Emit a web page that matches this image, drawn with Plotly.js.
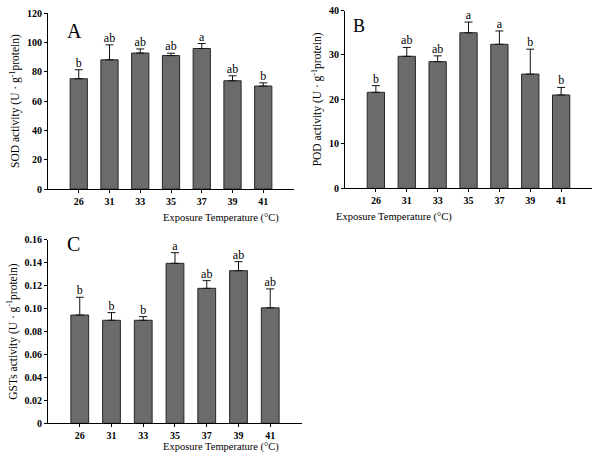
<!DOCTYPE html>
<html>
<head>
<meta charset="utf-8">
<script src="https://cdn.plot.ly/plotly-3.0.1.min.js"></script>
<style>html,body{margin:0;padding:0;background:#fff;}#chart{width:600px;height:465px;}</style>
</head>
<body>
<div id="chart"></div>
<script>
var temps = ["26", "31", "33", "35", "37", "39", "41"];

var sodMean = [75.2, 88.1, 92.7, 91.0, 95.8, 73.8, 70.2];
var sodErr  = [6.1, 10.2, 2.8, 1.6, 3.4, 3.4, 2.2];
var sodLetters = ["b", "ab", "ab", "ab", "a", "ab", "b"];

var podMean = [21.6, 29.7, 28.5, 35.0, 32.4, 25.7, 21.0];
var podErr  = [1.5, 2.0, 1.3, 2.4, 3.0, 5.6, 1.7];
var podLetters = ["b", "ab", "ab", "a", "a", "b", "b"];

var gstMean = [0.0945, 0.0899, 0.0899, 0.1396, 0.1178, 0.1332, 0.1008];
var gstErr  = [0.0155, 0.0067, 0.0032, 0.0093, 0.0067, 0.0079, 0.0165];
var gstLetters = ["b", "b", "b", "a", "ab", "ab", "ab"];

var sodTicks = [0, 20, 40, 60, 80, 100, 120];
var podTicks = [0, 10, 20, 30, 40];
var gstTickVals = [0, 0.02, 0.04, 0.06, 0.08, 0.10, 0.12, 0.14, 0.16];
var gstTickText = ["0", "0.02", "0.04", "0.06", "0.08", "0.10", "0.12", "0.14", "0.16"];

var SERIF = "Liberation Serif, Times New Roman, serif";
var barColor = "#6b6b6b";

function barTrace(mean, err, xa, ya) {
  return {
    type: "bar", x: temps, y: mean, xaxis: xa, yaxis: ya,
    width: 0.56,
    marker: {color: barColor, line: {color: "#262626", width: 1}},
    error_y: {type: "data", symmetric: false, array: err,
              arrayminus: err.map(function(){return 0;}),
              color: "#111", thickness: 1, width: 4},
    showlegend: false, hoverinfo: "skip"
  };
}
function letterTrace(mean, err, letters, xa, ya) {
  return {
    type: "scatter", mode: "text", x: temps,
    y: mean.map(function(v, i){return v + err[i];}),
    text: letters, textposition: "top center",
    marker: {color: "#000"},
    textfont: {family: SERIF, size: 12, color: "#000000"},
    xaxis: xa, yaxis: ya, showlegend: false, hoverinfo: "skip", cliponaxis: false
  };
}

var data = [
  barTrace(sodMean, sodErr, "x", "y"),
  letterTrace(sodMean, sodErr, sodLetters, "x", "y"),
  barTrace(podMean, podErr, "x2", "y2"),
  letterTrace(podMean, podErr, podLetters, "x2", "y2"),
  barTrace(gstMean, gstErr, "x3", "y3"),
  letterTrace(gstMean, gstErr, gstLetters, "x3", "y3")
];

function xAxis(domain, anchor) {
  return {
    domain: domain, anchor: anchor, type: "category", range: [-1, 7],
    showline: true, linecolor: "#000", linewidth: 1, mirror: false,
    ticks: "outside", ticklen: 3, tickcolor: "#000", tickwidth: 1,
    showgrid: false, zeroline: false, fixedrange: true,
    tickfont: {family: SERIF, size: 10, color: "#000", weight: "bold"}
  };
}
function yAxis(domain, anchor, range, title, extra) {
  var a = {
    domain: domain, anchor: anchor, range: range,
    showline: true, linecolor: "#000", linewidth: 1,
    ticks: "outside", ticklen: 3, tickcolor: "#000", tickwidth: 1,
    showgrid: false, zeroline: false, fixedrange: true,
    tickfont: {family: SERIF, size: 10, color: "#000", weight: "bold"},
    title: {text: title, font: {family: SERIF, size: 11.5, color: "#000"}, standoff: 4}
  };
  for (var k in extra) a[k] = extra[k];
  return a;
}

var layout = {
  width: 600, height: 465,
  margin: {l: 0, r: 0, t: 0, b: 0},
  paper_bgcolor: "#fff", plot_bgcolor: "#fff",
  bargap: 0.45,
  xaxis:  xAxis([0.08, 0.49], "y"),
  yaxis:  yAxis([0.5935, 0.972], "x", [0, 120], "SOD activity (U · g<sup>-1</sup>protein)",
                {tickvals: sodTicks}),
  xaxis2: xAxis([0.575, 0.9867], "y2"),
  yaxis2: yAxis([0.595, 0.9774], "x2", [0, 40], "POD activity (U · g<sup>-1</sup>protein)",
                {tickvals: podTicks}),
  xaxis3: xAxis([0.08, 0.5033], "y3"),
  yaxis3: yAxis([0.0897, 0.4839], "x3", [0, 0.16], "GSTs activity (U · g<sup>-1</sup>protein)",
                {tickvals: gstTickVals, ticktext: gstTickText}),
  annotations: [
    {text: "A", xref: "paper", yref: "paper", x: 65/600, y: 1 - 18/465, showarrow: false,
     font: {family: SERIF, size: 20, color: "#000"}},
    {text: "B", xref: "paper", yref: "paper", x: 359/600, y: 1 - 14/465, showarrow: false,
     font: {family: SERIF, size: 18, color: "#000"}},
    {text: "C", xref: "paper", yref: "paper", x: 65/600, y: 1 - 244/465, showarrow: false,
     font: {family: SERIF, size: 20, color: "#000"}},
    {text: "Exposure Temperature (°C)", xref: "paper", yref: "paper", x: 161/600, y: 1 - 218/465,
     showarrow: false, font: {family: SERIF, size: 10.5, color: "#000"}},
    {text: "Exposure Temperature (°C)", xref: "paper", yref: "paper", x: 454/600, y: 1 - 217/465,
     showarrow: false, font: {family: SERIF, size: 10.5, color: "#000"}},
    {text: "Exposure Temperature (°C)", xref: "paper", yref: "paper", x: 161/600, y: 1 - 455/465,
     showarrow: false, font: {family: SERIF, size: 10.5, color: "#000"}}
  ]
};

Plotly.newPlot("chart", data, layout, {staticPlot: true, displayModeBar: false});
</script>
</body>
</html>
